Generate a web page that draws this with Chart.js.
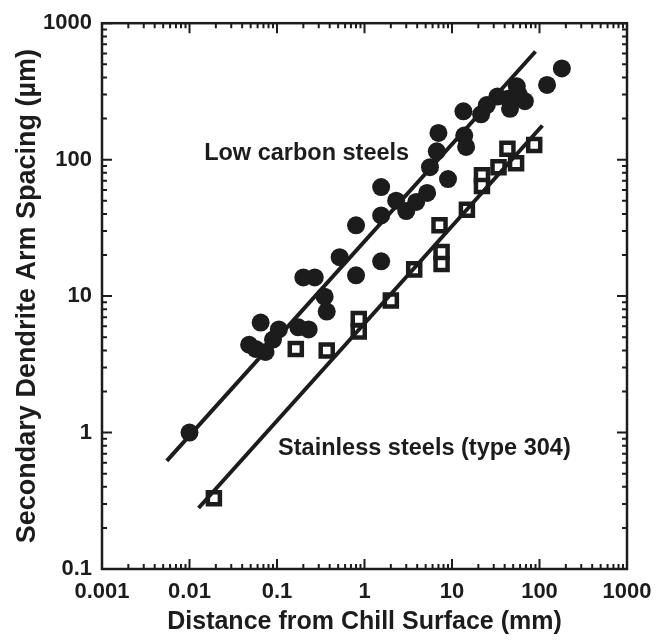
<!DOCTYPE html>
<html>
<head>
<meta charset="utf-8">
<script src="https://cdn.jsdelivr.net/npm/chart.js@4.4.1/dist/chart.umd.min.js"></script>
<style>
  html, body { margin: 0; padding: 0; background: #fff; }
</style>
</head>
<body>
<canvas id="chart" width="666" height="641"></canvas>
<script>
'use strict';

// tick labels
const xTickValues = [0.001, 0.01, 0.1, 1, 10, 100, 1000];
const xTickLabels = ['0.001', '0.01', '0.1', '1', '10', '100', '1000'];
const yTickValues = [0.1, 1, 10, 100, 1000];
const yTickLabels = ['0.1', '1', '10', '100', '1000'];

// low carbon steels (filled circles)
const lowCarbonX = [0.01, 0.048, 0.057, 0.074, 0.09, 0.065, 0.105, 0.175, 0.23, 0.2, 0.27, 0.35, 0.37, 0.52,
    0.8, 0.8, 1.55, 1.55, 1.55, 2.3, 3.0, 3.9, 5.2, 5.6, 7.0, 6.7, 9.0, 13.5, 13.8, 14.5, 21.5, 25, 33, 44,
    46, 55, 58, 68, 122, 180];
const lowCarbonY = [1.0, 4.4, 4.1, 3.9, 4.8, 6.4, 5.7, 5.9, 5.7, 13.7, 13.7, 9.9, 7.7, 19.3,
    14.2, 33, 18, 39, 63, 50, 42, 49, 57, 88, 157, 115, 72, 226, 150, 124, 215, 251, 290, 280,
    236, 345, 300, 268, 353, 466];

// stainless steels type 304 (open squares)
const stainlessX = [0.019, 0.164, 0.37, 0.86, 0.86, 2.0, 3.7, 7.2, 7.6, 7.6, 14.8, 22, 22, 34, 43, 54, 87];
const stainlessY = [0.33, 4.1, 4.0, 6.8, 5.5, 9.3, 15.7, 33, 21, 17.2, 43, 77, 64, 88, 120, 94, 128];

// fitted lines (end points)
const lowCarbonFitX = [0.0055, 90];
const lowCarbonFitY = [0.62, 620];
const stainlessFitX = [0.0127, 108];
const stainlessFitY = [0.28, 178];

const ink = '#1c1c1c';
const fontFamily = '"Liberation Sans", Arial, Helvetica, sans-serif';

function toPoints(xs, ys) {
    return xs.map((x, i) => ({x: x, y: ys[i]}));
}

// labels inside the plot, anchored in data units
const plotLabels = [
    {text: 'Low carbon steels', x: 0.0147, y: 110},
    {text: 'Stainless steels (type 304)', x: 0.103, y: 0.76}
];

function drawLogTicks(ctx, scale, area, horizontal) {
    const lo = Math.floor(Math.log10(scale.min));
    const hi = Math.ceil(Math.log10(scale.max));
    for (let e = lo; e <= hi; e++) {
        for (let m = 1; m <= 9; m++) {
            const v = m * Math.pow(10, e);
            if (v < scale.min * 0.999 || v > scale.max * 1.001) continue;
            const p = scale.getPixelForValue(v);
            const len = m === 1 ? 10 : 5;
            ctx.beginPath();
            if (horizontal) {
                ctx.moveTo(p, area.bottom); ctx.lineTo(p, area.bottom - len);
                ctx.moveTo(p, area.top); ctx.lineTo(p, area.top + len);
            } else {
                ctx.moveTo(area.left, p); ctx.lineTo(area.left + len, p);
                ctx.moveTo(area.right, p); ctx.lineTo(area.right - len, p);
            }
            ctx.stroke();
        }
    }
}

const framePlugin = {
    id: 'frame',
    afterDraw(chart) {
        const ctx = chart.ctx;
        const area = chart.chartArea;
        ctx.save();
        ctx.strokeStyle = ink;
        ctx.lineWidth = 2;
        drawLogTicks(ctx, chart.scales.x, area, true);
        drawLogTicks(ctx, chart.scales.y, area, false);
        ctx.lineWidth = 2.5;
        ctx.strokeRect(area.left, area.top, area.width, area.height);

        ctx.fillStyle = ink;
        ctx.font = 'bold 23.5px ' + fontFamily;
        ctx.textAlign = 'left';
        ctx.textBaseline = 'middle';
        plotLabels.forEach(l => {
            ctx.fillText(l.text, chart.scales.x.getPixelForValue(l.x), chart.scales.y.getPixelForValue(l.y));
        });
        ctx.restore();
    }
};

const ctx = document.getElementById('chart').getContext('2d');

new Chart(ctx, {
    type: 'scatter',
    data: {
        datasets: [
            {
                label: 'Low carbon fit',
                data: toPoints(lowCarbonFitX, lowCarbonFitY),
                showLine: true,
                borderColor: ink,
                borderWidth: 4,
                pointRadius: 0
            },
            {
                label: 'Stainless fit',
                data: toPoints(stainlessFitX, stainlessFitY),
                showLine: true,
                borderColor: ink,
                borderWidth: 4,
                pointRadius: 0
            },
            {
                label: 'Low carbon steels',
                data: toPoints(lowCarbonX, lowCarbonY),
                pointStyle: 'circle',
                pointRadius: 9,
                pointBackgroundColor: ink,
                pointBorderWidth: 0
            },
            {
                label: 'Stainless steels (type 304)',
                data: toPoints(stainlessX, stainlessY),
                pointStyle: 'rect',
                pointRadius: 8.5,
                pointBackgroundColor: '#fff',
                pointBorderColor: ink,
                pointBorderWidth: 4.5
            }
        ]
    },
    options: {
        responsive: false,
        animation: false,
        layout: {padding: {left: 0, top: 21, right: 39, bottom: 0}},
        plugins: {
            legend: {display: false},
            tooltip: {enabled: false}
        },
        scales: {
            x: {
                type: 'logarithmic',
                min: 0.001,
                max: 1000,
                afterBuildTicks: s => { s.ticks = xTickValues.map(v => ({value: v, major: true})); },
                afterFit: s => { s.height = 72; },
                grid: {display: false, drawTicks: false},
                border: {display: false},
                ticks: {
                    autoSkip: false,
                    maxRotation: 0,
                    padding: 10,
                    color: ink,
                    font: {family: fontFamily, size: 22, weight: 'bold'},
                    callback: (v, i) => xTickLabels[i]
                },
                title: {
                    display: true,
                    text: 'Distance from Chill Surface (mm)',
                    color: ink,
                    font: {family: fontFamily, size: 25, weight: 'bold', lineHeight: 1.2},
                    padding: {top: 0, bottom: 4}
                }
            },
            y: {
                type: 'logarithmic',
                min: 0.1,
                max: 1000,
                afterBuildTicks: s => { s.ticks = yTickValues.map(v => ({value: v, major: true})); },
                afterFit: s => { s.width = 102; },
                grid: {display: false, drawTicks: false},
                border: {display: false},
                ticks: {
                    autoSkip: false,
                    padding: 10,
                    color: ink,
                    font: {family: fontFamily, size: 22, weight: 'bold'},
                    callback: (v, i) => yTickLabels[i]
                },
                title: {
                    display: true,
                    text: 'Secondary Dendrite Arm Spacing (µm)',
                    color: ink,
                    font: {family: fontFamily, size: 27, weight: 'bold', lineHeight: 1.2},
                    padding: {top: 11, bottom: 0}
                }
            }
        }
    },
    plugins: [framePlugin]
});
</script>
</body>
</html>
